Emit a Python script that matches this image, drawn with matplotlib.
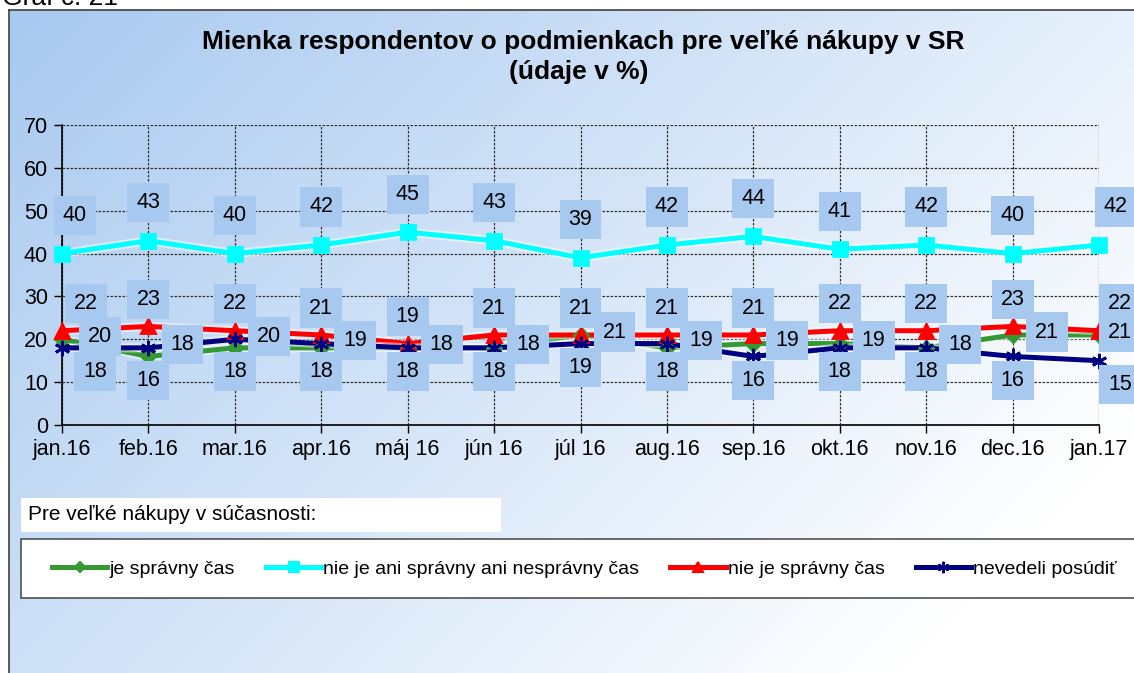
import numpy as np
import matplotlib
matplotlib.use('Agg')
import matplotlib.pyplot as plt
import matplotlib.patheffects as pe
from matplotlib.lines import Line2D
from matplotlib.patches import Rectangle

plt.rcParams['font.family'] = ['Liberation Sans', 'DejaVu Sans']

months = ['jan.16', 'feb.16', 'mar.16', 'apr.16', 'máj 16', 'jún 16', 'júl 16',
          'aug.16', 'sep.16', 'okt.16', 'nov.16', 'dec.16', 'jan.17']

je_spravny = [20, 16, 18, 18, 18, 18, 21, 18, 19, 19, 18, 21, 21]
ani_ani = [40, 43, 40, 42, 45, 43, 39, 42, 44, 41, 42, 40, 42]
nie_je_spravny = [22, 23, 22, 21, 19, 21, 21, 21, 21, 22, 22, 23, 22]
nevedeli = [18, 18, 20, 19, 18, 18, 19, 19, 16, 18, 18, 16, 15]

series_names = ['je správny čas', 'nie je ani správny ani nesprávny čas',
                'nie je správny čas', 'nevedeli posúdiť']

title1 = 'Mienka respondentov o podmienkach pre veľké nákupy v SR'
title2 = '(údaje v %)'

W, H = 1134, 673
fig = plt.figure(figsize=(W / 100, H / 100), dpi=100)

# background with gradient (chart area)
bg = fig.add_axes([0, 0, 1, 1], zorder=0)
bg.axis('off')
gx, gy = np.meshgrid(np.linspace(0, 1, 300), np.linspace(0, 1, 200))
t = np.clip((gx * 1125 + gy * 663) / (1125 + 663) * 1.15, 0, 1)
c0 = np.array([168, 201, 240]) / 255
c1 = np.array([255, 255, 255]) / 255
grad = c0[None, None, :] * (1 - t[..., None]) + c1[None, None, :] * t[..., None]
bg.imshow(grad, extent=(9, W, H, 10), aspect='auto', interpolation='bilinear')
bg.plot([9, 9], [10, H], color='#404040', lw=1.2)
bg.plot([9, W], [10, 10], color='#404040', lw=1.2)
bg.set_xlim(0, W)
bg.set_ylim(H, 0)

# caption above the chart, cut by the top edge like in the source
bg.text(2, 5, 'Graf č. 21', fontsize=19, va='baseline', ha='left')

# legend area
bg.add_patch(Rectangle((21, 498), 480, 34, fc='white', ec='none'))
bg.text(28, 515, 'Pre veľké nákupy v súčasnosti:', fontsize=15, va='center', ha='left')
bg.add_patch(Rectangle((21, 539), 1200, 59, fc='white', ec='#505050', lw=1.2))

# titles
fig.text(583 / W, 1 - 42 / H, title1, fontsize=19, fontweight='bold', ha='center', va='center')
fig.text(579 / W, 1 - 72 / H, title2, fontsize=19, fontweight='bold', ha='center', va='center')

# main plot
ax = fig.add_axes([62 / W, 1 - 425 / H, (1099 - 62) / W, 300 / H], zorder=2)
ax.patch.set_alpha(0)
x = np.arange(len(months))

styles = [
    (je_spravny, '#339933', 'D', 7),
    (ani_ani, '#00ffff', 's', 10),
    (nie_je_spravny, '#ff0000', '^', 10),
    (nevedeli, '#000080', (6, 2, 0), 11),
]
halo = [pe.Stroke(linewidth=6.5, foreground='white', alpha=0.5), pe.Normal()]
for vals, col, mk, ms in styles:
    ax.plot(x, vals, color=col, lw=3.6, clip_on=False, path_effects=halo,
            solid_capstyle='round', zorder=3)
    ax.plot(x, vals, ls='none', marker=mk, ms=ms, mfc=col, mec=col, mew=2,
            clip_on=False, zorder=3.5)

ax.set_xlim(0, 12)
ax.set_ylim(0, 70)
ax.set_yticks(range(0, 71, 10))
ax.set_xticks(x)
ax.set_xticklabels(months)
ax.tick_params(labelsize=15.5, length=6, width=1, pad=4, colors='black')
ax.grid(True, color='#303030', linestyle=(0, (2, 1.2)), lw=0.9)
for s in ['top', 'right']:
    ax.spines[s].set_visible(False)
for s in ['left', 'bottom']:
    ax.spines[s].set_linewidth(1.2)

# data labels
box = dict(boxstyle='square,pad=0.42', fc='#a7c9ef', ec='none')


def label(i, v, dx, dy):
    ax.annotate(str(v), (i, v), xytext=(dx, dy), textcoords='offset pixels',
                ha='center', va='center', fontsize=15.5, bbox=box,
                annotation_clip=False, zorder=5)


last = len(months) - 1
for i in x:
    first_shift = i == 0
    end_shift = i == last
    # cyan above
    dx = 13 if first_shift else (17 if end_shift else 0)
    label(i, ani_ani[i], dx, 38)
    # red above
    dx = 24 if first_shift else (21 if end_shift else 0)
    label(i, nie_je_spravny[i], dx, 27)
    # green / navy: lower below, higher right
    g, n = je_spravny[i], nevedeli[i]
    lo, hi = (n, g) if n <= g else (g, n)
    dx = 33 if first_shift else (21 if end_shift else 0)
    label(i, lo, dx, -24)
    dx = 38 if first_shift else (21 if end_shift else 34)
    label(i, hi, dx, 3)

# legend
handles = []
for vals, col, mk, ms in styles:
    handles.append(Line2D([], [], color=col, lw=3.6, marker=mk, ms=ms * 0.75,
                          mfc=col, mec=col, mew=1.5))
fig.legend(handles, series_names, ncol=4, loc='center left',
           bbox_to_anchor=(52 / W, 1 - 569 / H), frameon=False, fontsize=14,
           handlelength=2.85, handletextpad=0.1, columnspacing=1.6,
           borderpad=0, borderaxespad=0)

fig.savefig('out.png', dpi=100)
